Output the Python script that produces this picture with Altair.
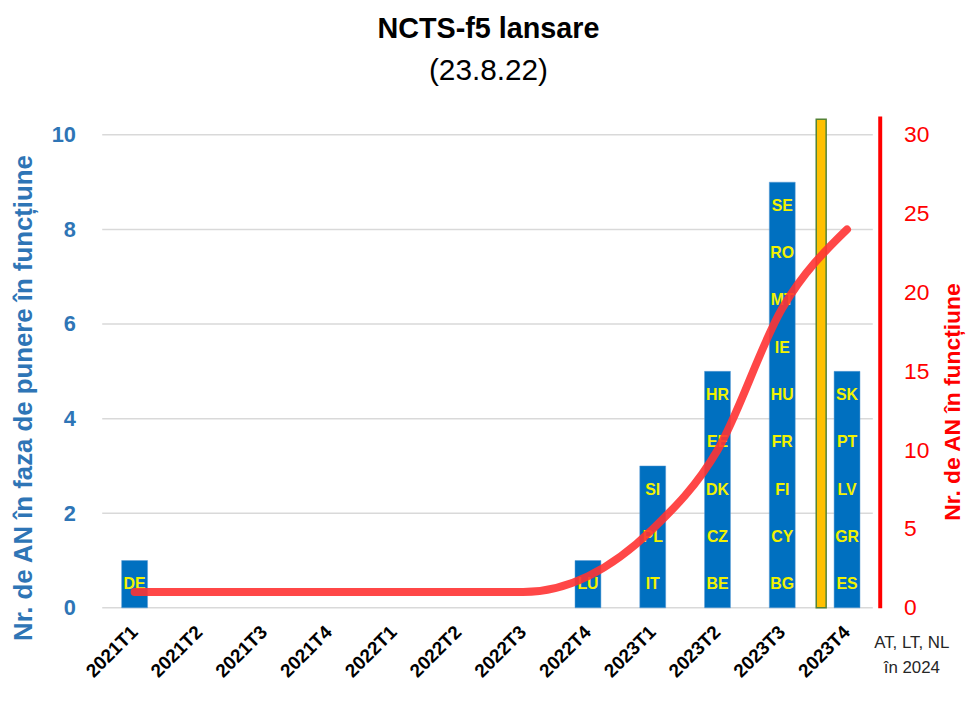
import altair as alt
import pandas as pd

categories = ["2021T1", "2021T2", "2021T3", "2021T4", "2022T1", "2022T2", "2022T3",
              "2022T4", "2023T1", "2023T2", "2023T3", "2023T4", "AT, LT, NL în 2024"]
bar_values = [1, 0, 0, 0, 0, 0, 0, 1, 3, 5, 9, 5, 0]
cumulative = [1, 1, 1, 1, 1, 1, 1, 2, 5, 10, 19, 24]
country_codes = {
    "2021T1": ["DE"],
    "2022T4": ["LU"],
    "2023T1": ["IT", "PL", "SI"],
    "2023T2": ["BE", "CZ", "DK", "EE", "HR"],
    "2023T3": ["BG", "CY", "FI", "FR", "HU", "IE", "MT", "RO", "SE"],
    "2023T4": ["ES", "GR", "LV", "PT", "SK"],
}
left_ticks = [0, 2, 4, 6, 8, 10]
right_ticks = [0, 5, 10, 15, 20, 25, 30]
marker_category = "2023T4"
marker_value = 10.33
last_label = "AT, LT, NL\nîn 2024"

FONT = "Liberation Sans"
BLUE = "#0070C0"
AXBLUE = "#2E75B6"
RED = "#FF0000"

bars_df = pd.DataFrame({"cat": categories, "v": bar_values})
bars_df = bars_df[bars_df["v"] > 0]
codes_rows = []
for c, codes in country_codes.items():
    for i, code in enumerate(codes):
        codes_rows.append({"cat": c, "code": code, "pos": i + 0.5})
codes_df = pd.DataFrame(codes_rows)
line_df = pd.DataFrame({"cat": categories[:len(cumulative)], "v": cumulative})
grid_df = pd.DataFrame({"t": left_ticks})
marker_df = pd.DataFrame({"cat": [marker_category], "v": [marker_value]})
last_df = pd.DataFrame({"cat": [categories[-1]], "label": [last_label]})

xscale = alt.Scale(domain=categories, paddingInner=0.6, paddingOuter=0.3, round=False)
ldom = alt.Scale(domain=[0, 10.4], nice=False)
rdom = alt.Scale(domain=[0, 31.2], nice=False)

xaxis = alt.Axis(
    title=None, labelAngle=315, labelAlign="right", labelBaseline="middle",
    labelFont=FONT, labelFontSize=19, labelFontWeight="bold", labelColor="#000000",
    labelPadding=21, ticks=False, domain=False, grid=False,
    labelExpr="datum.value == 'AT, LT, NL în 2024' ? '' : datum.label",
)
yaxis = alt.Axis(
    title="Nr. de AN în faza de punere în funcțiune", values=left_ticks,
    titleFont=FONT, titleFontSize=26, titleFontWeight="bold", titleColor=AXBLUE,
    titleAngle=270, titleBaseline="middle", titleAlign="center",
    titleX=-79, titleY=284,
    labelFont=FONT, labelFontSize=22, labelFontWeight="bold", labelColor=AXBLUE,
    labelPadding=27, ticks=False, domain=False, grid=False,
)

X = alt.X("cat:N", scale=xscale, axis=xaxis, sort=categories)

grid = alt.Chart(grid_df).mark_rule(color="#D9D9D9", strokeWidth=1.5).encode(
    y=alt.Y("t:Q", scale=ldom, axis=yaxis),
    x=alt.value(0), x2=alt.value(777),
)

bars = alt.Chart(bars_df).mark_bar(color=BLUE, stroke="#5B9BD5", strokeWidth=0.5).encode(
    x=X,
    y=alt.Y("v:Q", scale=ldom, axis=yaxis),
)

labels = alt.Chart(codes_df).mark_text(
    font=FONT, fontSize=16, fontWeight="bold", color="#F2F200"
).encode(
    x=X,
    y=alt.Y("pos:Q", scale=ldom, axis=yaxis),
    text="code:N",
)

marker = alt.Chart(marker_df).mark_bar(
    color="#FFC000", stroke="#548235", strokeWidth=1.5, width=10
).encode(
    x=X,
    xOffset=alt.value(-13),
    y=alt.Y("v:Q", scale=ldom, axis=yaxis),
)

last_text = alt.Chart(last_df).mark_text(
    font=FONT, fontSize=17, color="#262626", lineBreak="\n", baseline="top", lineHeight=26
).encode(
    x=X,
    y=alt.value(523),
    text="label:N",
)

left = alt.layer(grid, bars, labels, marker, last_text)

line = alt.Chart(line_df).mark_line(
    color="#FF3333", strokeWidth=8, opacity=0.9, interpolate="monotone", strokeCap="round"
).encode(
    x=X,
    y=alt.Y("v:Q", scale=rdom, axis=alt.Axis(
        orient="right", values=right_ticks, offset=-65,
        title="Nr. de AN în funcțiune", titleAngle=270, titleFont=FONT,
        titleBaseline="middle", titleAlign="center", titleX=73, titleY=288,
        titleFontSize=23, titleFontWeight="bold", titleColor=RED,
        labelFont=FONT, labelFontSize=23, labelColor=RED, labelPadding=24,
        ticks=False, domain=True, domainColor=RED, domainWidth=4, grid=False)),
)

chart = alt.layer(left, line).resolve_scale(y="independent").properties(
    width=849, height=496,
    autosize=alt.AutoSizeParams(type="none"),
    padding={"left": 95, "top": 106, "right": 22, "bottom": 80},
    title=alt.TitleParams(
        text="NCTS-f5 lansare", subtitle="(23.8.22)", anchor="middle", dx=-35,
        font=FONT, fontSize=29, fontWeight="bold", color="#000000",
        subtitleFont=FONT, subtitleFontSize=30, subtitleColor="#000000",
        subtitlePadding=13, offset=30,
    ),
).configure_view(stroke=None)

chart.save("out.html", embed_options={"renderer": "svg", "actions": False})
